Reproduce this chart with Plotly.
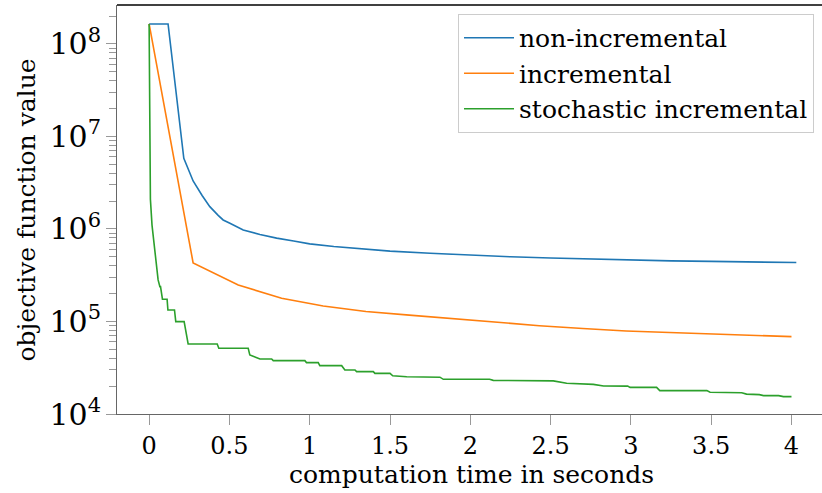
import plotly.graph_objects as go

# ---- data ----
blue_x = [0, 0.118, 0.216, 0.274, 0.33, 0.378, 0.43, 0.461, 0.503, 0.586, 0.69, 0.794, 0.9,
          1.0, 1.15, 1.313, 1.5, 1.75, 2.0, 2.25, 2.5, 2.75, 3.0, 3.25, 3.5, 3.75, 4.03]
blue_y = [1.64e8, 1.64e8, 5.8e6, 3.3e6, 2.3e6, 1.74e6, 1.4e6, 1.25e6, 1.15e6, 9.75e5, 8.7e5, 7.95e5, 7.4e5,
          6.9e5, 6.45e5, 6.1e5, 5.75e5, 5.45e5, 5.2e5, 5.0e5, 4.85e5, 4.72e5, 4.6e5, 4.52e5, 4.46e5, 4.4e5, 4.33e5]

orange_x = [0, 0.274, 0.555, 0.825, 1.084, 1.35, 1.62, 1.89, 2.16, 2.43, 2.70, 2.97, 3.24, 3.51, 3.78, 4.0]
orange_y = [1.64e8, 4.3e5, 2.48e5, 1.78e5, 1.47e5, 1.28e5, 1.17e5, 1.07e5, 9.8e4, 9.0e4, 8.4e4, 7.9e4,
            7.6e4, 7.3e4, 7.05e4, 6.86e4]

green_x = [0, 0.008, 0.018, 0.029, 0.046, 0.056, 0.067, 0.071, 0.083, 0.112, 0.117, 0.158, 0.166, 0.218,
           0.243, 0.424, 0.434, 0.617, 0.627, 0.652, 0.69, 0.763, 0.773, 0.97, 0.98, 1.053, 1.063, 1.199,
           1.219, 1.282, 1.292, 1.396, 1.406, 1.50, 1.517, 1.604, 1.811, 1.832, 2.12, 2.143, 2.517, 2.6,
           2.766, 2.83, 2.98, 2.995, 3.16, 3.18, 3.473, 3.493, 3.69, 3.72, 3.80, 3.826, 3.92, 3.95, 4.0]
green_y = [1.64e8, 2.1e6, 1.1e6, 7.6e5, 3.9e5, 2.81e5, 2.38e5, 2.38e5, 1.74e5, 1.74e5, 1.33e5, 1.33e5,
           9.95e4, 9.95e4, 5.71e4, 5.71e4, 5.13e4, 5.13e4, 4.35e4, 4.16e4, 3.93e4, 3.93e4, 3.77e4, 3.77e4,
           3.59e4, 3.59e4, 3.33e4, 3.33e4, 2.99e4, 2.99e4, 2.87e4, 2.87e4, 2.75e4, 2.75e4, 2.59e4, 2.53e4,
           2.5e4, 2.37e4, 2.37e4, 2.31e4, 2.28e4, 2.15e4, 2.09e4, 2.01e4, 2.0e4, 1.94e4, 1.94e4, 1.79e4,
           1.79e4, 1.72e4, 1.70e4, 1.64e4, 1.62e4, 1.58e4, 1.58e4, 1.54e4, 1.54e4]

names = ["non-incremental", "incremental", "stochastic incremental"]
colors = ["#1f77b4", "#ff7f0e", "#2ca02c"]
x_ticks = [0, 0.5, 1, 1.5, 2, 2.5, 3, 3.5, 4]
x_tick_text = ["0", "0.5", "1", "1.5", "2", "2.5", "3", "3.5", "4"]
x_title = "computation time in seconds"
y_title = "objective function value"

FONT = "DejaVu Serif"

fig = go.Figure()
for xs, ys, n, c in zip([blue_x, orange_x, green_x], [blue_y, orange_y, green_y], names, colors):
    fig.add_trace(go.Scatter(x=xs, y=ys, mode="lines", name=n,
                             line=dict(color=c, width=1.6)))

fig.update_layout(
    width=822, height=493,
    margin=dict(l=117, r=0, t=5, b=79, autoexpand=False),
    paper_bgcolor="white", plot_bgcolor="white",
    font=dict(family=FONT, size=24, color="black"),
    legend=dict(x=0.4837, y=0.978, xanchor="left", yanchor="top",
                bgcolor="white", bordercolor="#cccccc", borderwidth=1,
                font=dict(family=FONT, size=25), itemwidth=50,
                tracegroupgap=0),
    showlegend=True,
)
fig.update_xaxes(
    range=[-0.2, 4.19], tickmode="array", tickvals=x_ticks, ticktext=x_tick_text,
    ticks="outside", ticklen=10, tickcolor="#999999", tickwidth=1,
    showline=True, linecolor="#666666", linewidth=1.3, mirror=False,
    showgrid=False, zeroline=False, automargin=False,
    tickfont=dict(size=24),
)
fig.update_yaxes(
    type="log", range=[4, 8.42], dtick=1, exponentformat="power", showexponent="all",
    ticks="outside", ticklen=10, tickcolor="#999999", tickwidth=1,
    minor=dict(ticks="outside", ticklen=7, tickcolor="#999999", showgrid=False),
    showline=True, linecolor="#666666", linewidth=1.3, mirror=False,
    showgrid=False, zeroline=False, automargin=False,
    tickfont=dict(size=24),
)
fig.add_shape(type="line", xref="paper", yref="paper", x0=0, x1=1, y0=1, y1=1,
              line=dict(color="black", width=1.3))
fig.add_annotation(text=x_title, xref="paper", yref="paper", x=0.5035, y=-0.149,
                   xanchor="center", yanchor="middle", showarrow=False,
                   font=dict(family=FONT, size=25))
fig.add_annotation(text=y_title, xref="paper", yref="paper", x=-0.1277, y=0.5,
                   xanchor="center", yanchor="middle", textangle=-90, showarrow=False,
                   font=dict(family=FONT, size=25))

fig.write_html("out.html", config={"displayModeBar": False},
               post_script="document.body.style.margin='0';")
